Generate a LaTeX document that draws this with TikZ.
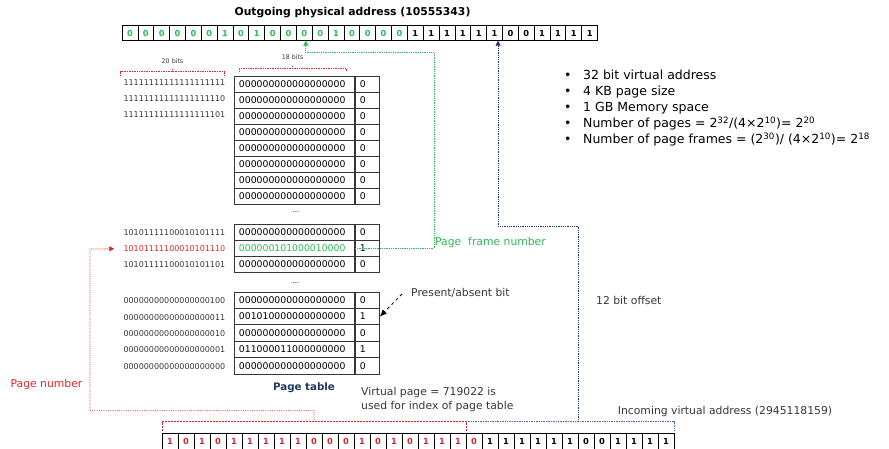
\documentclass[tikz,border=0pt]{standalone}
\usepackage{fontspec}
\setmainfont{DejaVu Sans}
\usetikzlibrary{arrows.meta}

\definecolor{pagered}{RGB}{215,40,45}
\definecolor{framegreen}{RGB}{45,185,85}
\definecolor{navy}{RGB}{31,56,100}
\definecolor{offblue}{RGB}{70,105,175}
\definecolor{cellgray}{RGB}{55,55,55}

\tikzset{
  tbit/.style={shape=rectangle,draw=black,line width=0.8pt,minimum width=15.85pt,minimum height=14.5pt,inner sep=0pt,font=\fontsize{8.3}{8}\selectfont\bfseries},
  bbit/.style={tbit,minimum width=16pt,minimum height=16pt},
  pte/.style={shape=rectangle,draw=cellgray,line width=0.9pt,anchor=west,minimum height=16pt,text width=111pt,inner xsep=4.5pt,inner ysep=0pt,align=left,font=\fontsize{9.3}{10}\selectfont},
  ptbit/.style={pte,text width=15pt},
  rowlbl/.style={anchor=east,inner sep=0pt,text=cellgray,font=\fontsize{8}{9}\selectfont},
  lbl/.style={inner sep=0pt,font=\fontsize{10.8}{14}\selectfont},
  brk/.style={pagered,densely dotted,line width=0.7pt},
  tip/.style={-{Triangle[length=5pt,width=5pt]}},
}

\begin{document}
\begin{tikzpicture}[x=1pt,y=-1pt]
\useasboundingbox (0,0) rectangle (889,448);

% outgoing physical address
\node[inner sep=0pt,font=\fontsize{10.8}{12}\selectfont\bfseries] (title) at (352.5,13) {Outgoing physical address (10555343)};
\foreach \b [count=\i from 0] in {0,0,0,0,0,0,1,0,1,0,0,0,0,1,0,0,0,0}
  \node[tbit,text=framegreen] (t\i) at (130+15.85*\i,33) {\b};
\foreach \b [count=\i from 18] in {1,1,1,1,1,1,0,0,1,1,1,1}
  \node[tbit] (t\i) at (130+15.85*\i,33) {\b};

% bit width brackets
\draw[brk] (120.7,75.7) -- (120.7,71.7) -- (224.3,71.7) -- (224.3,75.7);
\draw[brk] (172.5,71.7) -- (172.5,68.3);
\node[inner sep=0pt,text=cellgray,font=\fontsize{6.3}{7}\selectfont] (w20) at (172.5,61.5) {20 bits};
\draw[brk] (239.3,71.7) -- (239.3,68.3) -- (346,68.3) -- (346,71.7);
\draw[brk] (292.6,68.3) -- (292.6,65);
\node[inner sep=0pt,text=cellgray,font=\fontsize{6.3}{7}\selectfont] (w18) at (292.6,57) {18 bits};

% page table, first block
\foreach \k in {1,...,8} {
  \node[pte] (pa\k) at (234,68+16*\k) {000000000000000000};
  \node[ptbit] (pa\k b) at (pa\k.east) {0};
}
\node[rowlbl] (la1) at (225.5,82.5) {11111111111111111111};
\node[rowlbl] (la2) at (225.5,98.8) {11111111111111111110};
\node[rowlbl] (la3) at (225.5,114.8) {11111111111111111101};
\node[inner sep=0pt,font=\fontsize{7}{7}\selectfont] (dots1) at (296,212) {...};

% second block
\node[pte] (pb1) at (234,232.3) {000000000000000000};
\node[ptbit] (pb1b) at (pb1.east) {0};
\node[pte,text=framegreen] (pb2) at (234,248.3) {000000101000010000};
\node[ptbit] (pb2b) at (pb2.east) {1};
\node[pte] (pb3) at (234,264.3) {000000000000000000};
\node[ptbit] (pb3b) at (pb3.east) {0};
\node[rowlbl] (lb1) at (225.5,232.8) {10101111100010101111};
\node[rowlbl,text=pagered] (lb2) at (225.5,248.8) {10101111100010101110};
\node[rowlbl] (lb3) at (225.5,264.8) {10101111100010101101};
\node[inner sep=0pt,font=\fontsize{7}{7}\selectfont] (dots2) at (296,283) {...};

% third block
\node[pte,minimum height=16.4pt] (pc1) at (234,300.2) {000000000000000000};
\node[ptbit,minimum height=16.4pt] (pc1b) at (pc1.east) {0};
\node[pte,minimum height=16.4pt] (pc2) at (234,316.6) {001010000000000000};
\node[ptbit,minimum height=16.4pt] (pc2b) at (pc2.east) {1};
\node[pte,minimum height=16.4pt] (pc3) at (234,333) {000000000000000000};
\node[ptbit,minimum height=16.4pt] (pc3b) at (pc3.east) {0};
\node[pte,minimum height=16.4pt] (pc4) at (234,349.4) {011000011000000000};
\node[ptbit,minimum height=16.4pt] (pc4b) at (pc4.east) {1};
\node[pte,minimum height=16.4pt] (pc5) at (234,365.8) {000000000000000000};
\node[ptbit,minimum height=16.4pt] (pc5b) at (pc5.east) {0};
\node[rowlbl] (lc1) at (225.5,300.7) {00000000000000000100};
\node[rowlbl] (lc2) at (225.5,317.1) {00000000000000000011};
\node[rowlbl] (lc3) at (225.5,333.5) {00000000000000000010};
\node[rowlbl] (lc4) at (225.5,349.9) {00000000000000000001};
\node[rowlbl] (lc5) at (225.5,366.3) {00000000000000000000};
\node[inner sep=0pt,text=navy,font=\fontsize{10.3}{12}\selectfont\bfseries] (ptab) at (304,388) {Page table};

% notes
\node[anchor=north west,inner sep=0pt,font=\fontsize{12.5}{16}\selectfont] (specs) at (564,68) {%
\begin{tabular}{@{}l@{\hspace{11.6pt}}l@{}}
• & 32 bit virtual address\\
• & 4 KB page size\\
• & 1 GB Memory space\\
• & Number of pages = 2\textsuperscript{32}/(4×2\textsuperscript{10})= 2\textsuperscript{20}\\
• & Number of page frames = (2\textsuperscript{30})/ (4×2\textsuperscript{10})= 2\textsuperscript{18}
\end{tabular}};
\node[lbl,anchor=west,text=framegreen] (pfn) at (435,243) {Page\ \ frame number};
\node[lbl,anchor=west,text=cellgray] (pab) at (411,293) {Present/absent bit};
\node[lbl,anchor=west,text=cellgray] (off) at (596,300) {12 bit offset};
\node[lbl,anchor=west,align=left,text=cellgray] (vpage) at (361,400) {Virtual page = 719022 is\\used for index of page table};
\node[inner sep=0pt,text=pagered,font=\fontsize{10.8}{12}\selectfont] (pnum) at (46.5,385) {Page number};
\node[lbl,text=cellgray] (inva) at (725,411.7) {Incoming virtual address (2945118159)};

% incoming virtual address
\foreach \b [count=\i from 0] in {1,0,1,0,1,1,1,1,1,0,0,0,1,0,1,0,1,1,1,0}
  \node[bbit,text=pagered] (b\i) at (170+16*\i,441) {\b};
\foreach \b [count=\i from 20] in {1,1,1,1,1,1,0,0,1,1,1,1}
  \node[bbit] (b\i) at (170+16*\i,441) {\b};
\draw[pagered,dash pattern=on 2pt off 1pt,line width=0.7pt] (162,431) -- (162,421.7) -- (466,421.7) -- (466,431);
\draw[offblue,densely dotted,line width=0.7pt] (466,421.7) -- (674,421.7) -- (674,431);
\coordinate (pnk) at (314,421.7);
\coordinate (offk) at (578.7,421.7);
\coordinate (pabtail) at (402,294);

% connectors
\draw[pagered,densely dotted,line width=0.8pt,tip] (pnk) |- (90,410.7) -- (90,249) -- ([xshift=-9pt]lb2.west);
\draw[framegreen,densely dotted,line width=0.8pt,tip] (pb2.east) -| (434,52.7) -| ([xshift=1.5pt]t11.south);
\draw[navy,densely dotted,line width=0.8pt,tip] (offk) -- (578.7,226) -| ([xshift=3.5pt]t23.south);
\draw[black,dashed,line width=0.8pt,-{Latex[length=7pt,width=6pt]}] (pabtail) -- (pc2b.east);
\end{tikzpicture}
\end{document}
